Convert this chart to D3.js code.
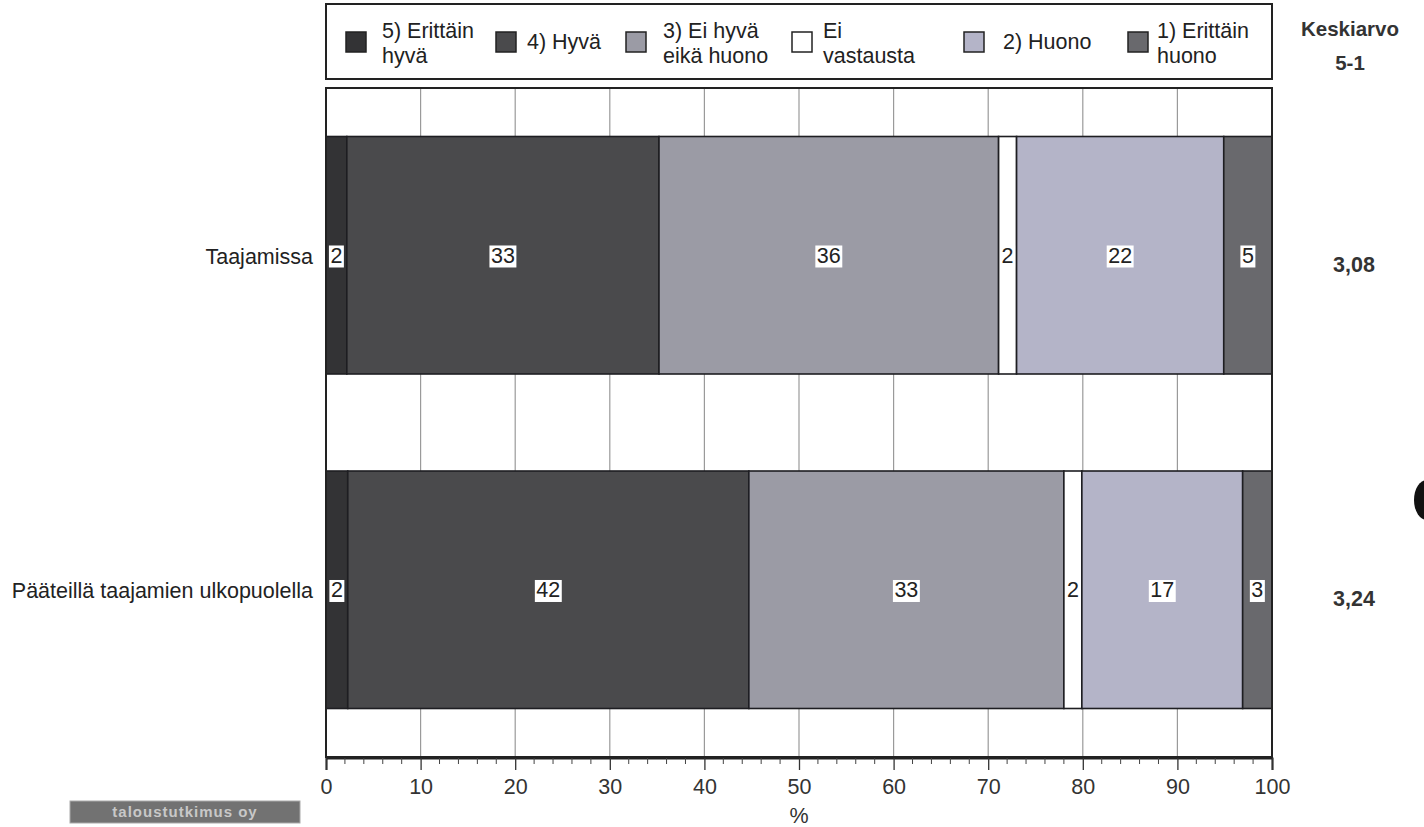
<!DOCTYPE html>
<html><head><meta charset="utf-8">
<script src="https://cdn.jsdelivr.net/npm/d3@7"></script>
<style>body{margin:0;background:#fff;}svg{display:block;font-family:"Liberation Sans",Arial,sans-serif;}</style>
</head><body>
<script>
const categories = ["Taajamissa", "Pääteillä taajamien ulkopuolella"];
const seriesNames = ["5) Erittäin hyvä", "4) Hyvä", "3) Ei hyvä eikä huono", "Ei vastausta", "2) Huono", "1) Erittäin huono"];
const legendLines = [["5) Erittäin", "hyvä"], ["4) Hyvä"], ["3) Ei hyvä", "eikä huono"], ["Ei", "vastausta"], ["2) Huono"], ["1) Erittäin", "huono"]];
const seriesColors = ["#333335", "#4a4a4c", "#9b9ba5", "#ffffff", "#b4b4c8", "#69696d"];
const valuesTaajamissa = [2.2, 33.0, 35.9, 1.9, 21.9, 5.1];
const valuesPaateilla = [2.3, 42.4, 33.3, 1.9, 17.0, 3.1];
const labelsTaajamissa = [2, 33, 36, 2, 22, 5];
const labelsPaateilla = [2, 42, 33, 2, 17, 3];
const means = ["3,08", "3,24"];
const xTicks = [0, 10, 20, 30, 40, 50, 60, 70, 80, 90, 100];
const minorTicks = d3.range(0, 101, 2);

const FS = 21.5;
const W = 1424, H = 827;
const svg = d3.select("body").append("svg").attr("width", W).attr("height", H);
const x = d3.scaleLinear().domain([0, 100]).range([326, 1272]);
const y = d3.scaleBand().domain(categories).range([88, 757]).paddingInner(0.29).paddingOuter(0.145);

// plot background
svg.append("rect").attr("x", x(0)).attr("y", 88).attr("width", x(100) - x(0)).attr("height", 669).attr("fill", "#fff");
// gridlines
svg.append("g").selectAll("line").data(xTicks.slice(1, -1)).join("line")
  .attr("x1", d => x(d)).attr("x2", d => x(d)).attr("y1", 88).attr("y2", 757)
  .attr("stroke", "#9a9a9a").attr("stroke-width", 1.2);

const rows = [
  {cat: categories[0], vals: valuesTaajamissa, labels: labelsTaajamissa},
  {cat: categories[1], vals: valuesPaateilla, labels: labelsPaateilla}
];
rows.forEach((r, ri) => {
  let acc = 0;
  const segs = r.vals.map((v, i) => { const s = {x0: acc, x1: acc + v, i, label: r.labels[i]}; acc += v; return s; });
  const g = svg.append("g");
  g.selectAll("rect").data(segs).join("rect")
    .attr("x", d => x(d.x0)).attr("y", y(r.cat))
    .attr("width", d => x(d.x1) - x(d.x0)).attr("height", y.bandwidth())
    .attr("fill", d => seriesColors[d.i]).attr("stroke", "#1e1e22").attr("stroke-width", 1.6);
  const cy = y(r.cat) + y.bandwidth() / 2;
  segs.forEach(d => {
    const cx = (x(d.x0) + x(d.x1)) / 2;
    const t = g.append("text").attr("x", cx).attr("y", cy).attr("dy", "0.36em")
      .attr("text-anchor", "middle").attr("font-size", FS).attr("fill", "#222").text(d.label);
    const bb = t.node().getBBox();
    g.insert("rect", function(){ return t.node(); })
      .attr("x", bb.x - 1.5).attr("y", bb.y + 1.5).attr("width", bb.width + 3).attr("height", bb.height - 2)
      .attr("fill", "#fff");
  });
  // category label
  svg.append("text").attr("x", 313).attr("y", cy + 1).attr("dy", "0.36em").attr("text-anchor", "end")
    .attr("font-size", FS).attr("fill", "#222").text(r.cat);
  // mean
  svg.append("text").attr("x", 1354).attr("y", cy + 9).attr("dy", "0.36em").attr("text-anchor", "middle")
    .attr("font-size", FS).attr("font-weight", "bold").attr("fill", "#333").text(means[ri]);
});

// plot border
svg.append("rect").attr("x", x(0)).attr("y", 88).attr("width", x(100) - x(0)).attr("height", 669)
  .attr("fill", "none").attr("stroke", "#222").attr("stroke-width", 2);

// axis
const axis = svg.append("g").attr("transform", "translate(0,758)")
  .call(d3.axisBottom(x).tickValues(xTicks).tickSize(12).tickPadding(9).tickFormat(d3.format("d")));
axis.select(".domain").attr("stroke", "#222").attr("stroke-width", 2);
axis.selectAll(".tick line").attr("stroke", "#333").attr("stroke-width", 1.3);
axis.selectAll(".tick text").attr("font-size", FS).attr("fill", "#333").attr("font-family", "Liberation Sans, Arial, sans-serif");
svg.append("g").selectAll("line").data(minorTicks.filter(d => d % 10 !== 0)).join("line")
  .attr("x1", d => x(d)).attr("x2", d => x(d)).attr("y1", 758).attr("y2", 764)
  .attr("stroke", "#444").attr("stroke-width", 1);
svg.append("text").attr("x", x(50)).attr("y", 823).attr("text-anchor", "middle").attr("font-size", FS).attr("fill", "#333").text("%");

// legend
svg.append("rect").attr("x", 326).attr("y", 4).attr("width", 946).attr("height", 75)
  .attr("fill", "#fff").attr("stroke", "#222").attr("stroke-width", 2);
const legendSwatchX = [346, 496, 626, 792, 964, 1128];
const legendTextX = [382, 527, 663, 823, 1003, 1157];
legendLines.forEach((lines, i) => {
  const g = svg.append("g");
  g.append("rect").attr("x", legendSwatchX[i]).attr("y", 32).attr("width", 20).attr("height", 20)
    .attr("fill", seriesColors[i]).attr("stroke", "#222").attr("stroke-width", 1.5);
  const tx = legendTextX[i];
  if (lines.length === 1) {
    g.append("text").attr("x", tx).attr("y", 49).attr("font-size", FS).attr("fill", "#222").text(lines[0]);
  } else {
    g.append("text").attr("x", tx).attr("y", 38).attr("font-size", FS).attr("fill", "#222").text(lines[0]);
    g.append("text").attr("x", tx).attr("y", 63).attr("font-size", FS).attr("fill", "#222").text(lines[1]);
  }
});
svg.append("text").attr("x", 1350).attr("y", 36).attr("text-anchor", "middle").attr("font-size", FS - 1).attr("font-weight", "bold").attr("fill", "#333").text("Keskiarvo");
svg.append("text").attr("x", 1350).attr("y", 70).attr("text-anchor", "middle").attr("font-size", FS - 1).attr("font-weight", "bold").attr("fill", "#333").text("5-1");

// logo
svg.append("rect").attr("x", 70).attr("y", 801).attr("width", 230).attr("height", 22).attr("fill", "#727272").attr("stroke", "#aaa");
svg.append("text").attr("x", 185).attr("y", 812).attr("dy", "0.36em").attr("text-anchor", "middle")
  .attr("font-size", 15).attr("font-weight", "bold").attr("letter-spacing", 1).attr("fill", "#c8c8c8").text("taloustutkimus oy");

// scan artefact at right edge
svg.append("ellipse").attr("cx", 1427).attr("cy", 500).attr("rx", 13).attr("ry", 20).attr("fill", "#111");
</script>
</body></html>
